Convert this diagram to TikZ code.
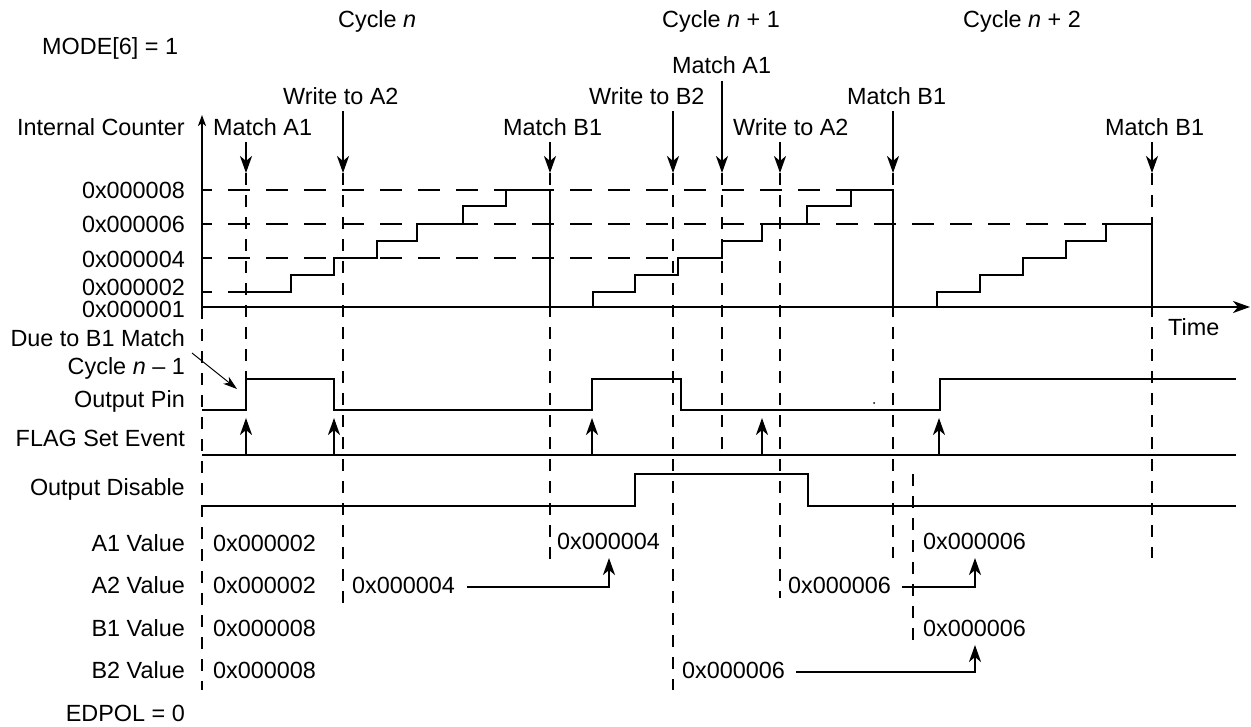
\documentclass[tikz,border=0pt]{standalone}
\usepackage{fontspec}
\setmainfont{Liberation Sans}
\usetikzlibrary{arrows.meta}
\begin{document}
\begin{tikzpicture}[x=1pt,y=-1pt,
  every node/.style={inner sep=0pt, font=\fontsize{23.4}{28}\selectfont},
  wave/.style={line width=2.3pt, line join=miter},
  hdash/.style={line width=2.3pt, dash pattern=on 22pt off 16pt, dash phase=12pt},
  vdash/.style={line width=2.3pt, dash pattern=on 12pt off 10pt},
  evt/.style={line width=2.3pt, -{Stealth[length=17pt,width=12pt,inset=5pt]}},
  lbl/.style={anchor=base east},
  txt/.style={anchor=base west}]
\useasboundingbox (0,0) rectangle (1251,726);

% ---- top texts
\node[txt] (cyc0) at (338,27) {Cycle \textit{n}};
\node[txt] (cyc1) at (662,27) {Cycle \textit{n} + 1};
\node[txt] (cyc2) at (963,27) {Cycle \textit{n} + 2};
\node[txt] (mode) at (42,54) {MODE[6] = 1};

\node[lbl] (ic) at (185,135) {Internal Counter};
\node[txt] (ma1) at (213,135) {Match A1};
\node[txt] (wa2) at (283,104) {Write to A2};
\node[txt] (mb1) at (503,135) {Match B1};
\node[txt] (wb2) at (589,104) {Write to B2};
\node[txt] (ma1b) at (672,73) {Match A1};
\node[txt] (wa2b) at (733,135) {Write to A2};
\node[txt] (mb1b) at (847,104) {Match B1};
\node[txt] (mb1c) at (1105,135) {Match B1};

% counter value labels
\node[lbl] (v8) at (185,198) {0x000008};
\node[lbl] (v6) at (185,232) {0x000006};
\node[lbl] (v4) at (185,267) {0x000004};
\node[lbl] (v2) at (185,295) {0x000002};
\node[lbl] (v1) at (185,317) {0x000001};
\node[txt] (time) at (1168,335) {Time};

% left signal labels
\node[lbl] (due) at (185,346) {Due to B1 Match};
\node[lbl] (cycm) at (185,374) {Cycle \textit{n} -- 1};
\node[lbl] (opin) at (185,407) {Output Pin};
\node[lbl] (flag) at (185,446) {FLAG Set Event};
\node[lbl] (odis) at (185,495) {Output Disable};
\node[lbl] (a1l) at (185,551) {A1 Value};
\node[lbl] (a2l) at (185,593) {A2 Value};
\node[lbl] (b1l) at (185,636) {B1 Value};
\node[lbl] (b2l) at (185,678) {B2 Value};
\node[lbl] (edp) at (185,721) {EDPOL = 0};

% values
\node[txt] (a1v1) at (213,551) {0x000002};
\node[txt] (a2v1) at (213,593) {0x000002};
\node[txt] (b1v1) at (213,636) {0x000008};
\node[txt] (b2v1) at (213,678) {0x000008};
\node[txt] (a2v2) at (352,593) {0x000004};
\node[txt] (a1v2) at (557,549) {0x000004};
\node[txt] (a2v3) at (788,593) {0x000006};
\node[txt] (a1v3) at (923,549) {0x000006};
\node[txt] (b1v2) at (923,636) {0x000006};
\node[txt] (b2v2) at (682,678) {0x000006};

% ---- horizontal dashed reference levels
\draw[hdash] (202,190) -- (893,190);
\draw[hdash] (202,224) -- (1152,224);
\draw[hdash] (202,258) -- (678,258);
\draw[hdash] (202,292) -- (232,292);

% ---- vertical dashed event lines
\draw[vdash] (202,307) -- (202,690);
\draw[vdash] (246,173) -- (246,379);
\draw[vdash] (343,173) -- (343,605);
\draw[vdash] (550,173) -- (550,560);
\draw[vdash] (673,173) -- (673,690);
\draw[vdash] (722,173) -- (722,455);
\draw[vdash] (780,173) -- (780,598);
\draw[vdash] (893,173) -- (893,558);
\draw[vdash] (913,474) -- (913,647);
\draw[vdash] (1152,173) -- (1152,558);

% ---- event arrows (downwards)
\draw[evt] (246,142) -- (246,173);
\draw[evt] (343,111) -- (343,173);
\draw[evt] (550,142) -- (550,173);
\draw[evt] (673,111) -- (673,173);
\draw[evt] (722,81) -- (722,173);
\draw[evt] (780,142) -- (780,173);
\draw[evt] (893,111) -- (893,173);
\draw[evt] (1152,142) -- (1152,173);

% ---- axes
\draw[line width=2.3pt, -{Stealth[length=11pt,width=8pt,inset=3pt]}] (202,308) -- (202,115);
\draw[line width=2.3pt, -{Stealth[length=17pt,width=12pt,inset=5pt]}] (201,307) -- (1250,307);

% ---- counter staircases
\draw[wave] (232,292) -- (291,292) -- (291,275) -- (334,275) -- (334,258) -- (377,258) -- (377,241)
  -- (417,241) -- (417,224) -- (463,224) -- (463,206) -- (506,206) -- (506,190) -- (550,190) -- (550,307);
\draw[wave] (593,307) -- (593,292) -- (635,292) -- (635,275) -- (678,275) -- (678,258) -- (722,258)
  -- (722,241) -- (762,241) -- (762,224) -- (807,224) -- (807,206) -- (851,206) -- (851,190) -- (893,190) -- (893,307);
\draw[wave] (937,307) -- (937,292) -- (980,292) -- (980,275) -- (1023,275) -- (1023,258) -- (1066,258)
  -- (1066,241) -- (1106,241) -- (1106,224) -- (1152,224) -- (1152,307);

% ---- output pin
\draw[wave] (202,410) -- (246,410) -- (246,379) -- (334,379) -- (334,410) -- (592,410) -- (592,379)
  -- (681,379) -- (681,410) -- (940,410) -- (940,379) -- (1236,379);
\fill (874,403) circle (1pt);
\draw[line width=1pt, -{Stealth[length=14pt,width=9pt,inset=4pt]}] (192,353) -- (237,389);

% ---- flag set events
\draw[wave] (202,455) -- (1236,455);
\foreach \x in {246,334,592,762,939}
  \draw[evt] (\x,455) -- (\x,418);

% ---- output disable
\draw[wave] (202,506) -- (635,506) -- (635,474) -- (808,474) -- (808,506) -- (1236,506);

% ---- value transfers
\draw[evt] (467,587) -- (609,587) -- (609,558);
\draw[evt] (902,587) -- (975,587) -- (975,558);
\draw[evt] (796,672) -- (975,672) -- (975,645);
\end{tikzpicture}
\end{document}
